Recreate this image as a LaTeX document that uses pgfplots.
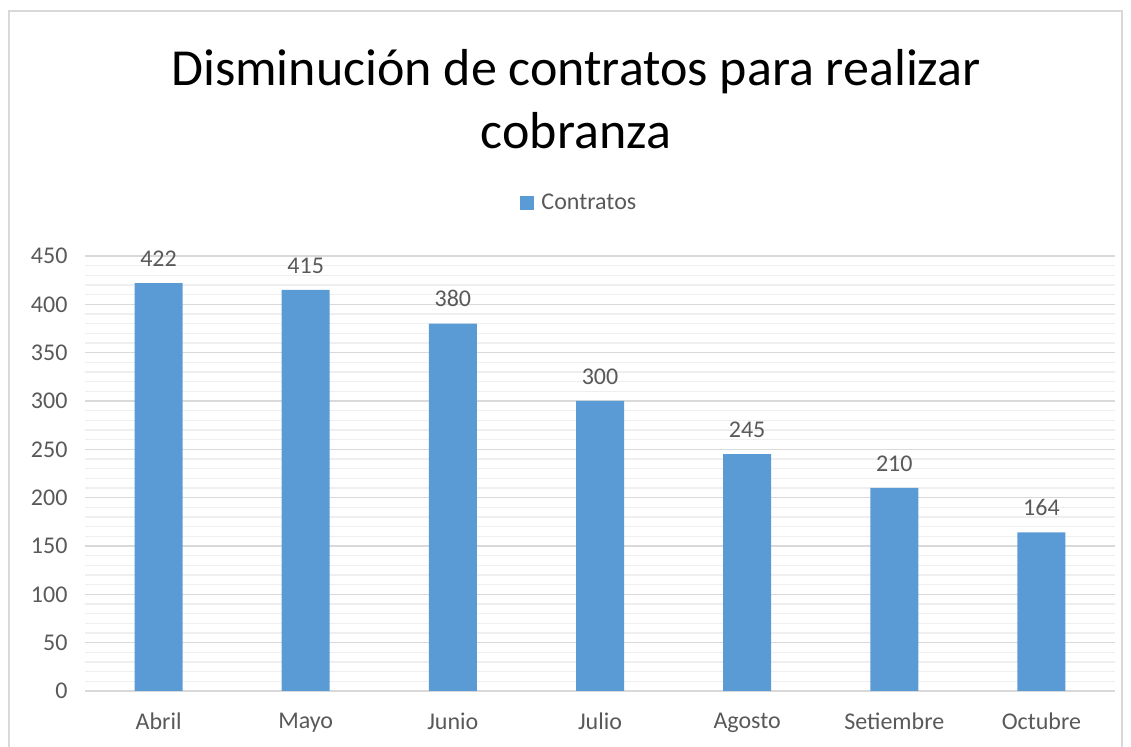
\documentclass[border=0pt]{standalone}
\usepackage{pgfplots}
\pgfplotsset{compat=1.18}
\usepackage{fontspec}
\setmainfont{Carlito}
\definecolor{barblue}{HTML}{5B9BD5}
\definecolor{textgray}{HTML}{595959}
\definecolor{majgrid}{HTML}{D9D9D9}
\definecolor{mingrid}{HTML}{EFEFEF}
\definecolor{framec}{HTML}{D9D9D9}
\begin{document}
\begin{tikzpicture}[x=1pt,y=1pt]
\useasboundingbox (0,0) rectangle (1131,746);
\draw[framec, line width=1.5pt] (9,-5) -- (9,735) -- (1122,735) -- (1122,-5);
\node[align=center, font=\fontsize{52}{63}\selectfont, text=black] at (576,647) {Disminución de contratos para realizar\\cobranza};
\begin{axis}[
  at={(85pt,55pt)}, anchor=south west,
  scale only axis, width=1030pt, height=435pt,
  ybar, bar width=48pt,
  xmin=-0.5, xmax=6.5, ymin=0, ymax=450,
  xtick=data,
  xticklabels={Abril,Mayo,Junio,Julio,Agosto,Setiembre,Octubre},
  ytick={0,50,...,450},
  minor y tick num=4,
  ymajorgrids, yminorgrids,
  major grid style={majgrid, line width=1.2pt},
  minor grid style={mingrid, line width=1.2pt},
  axis line style={draw=none},
  tick style={draw=none},
  minor tick style={draw=none},
  /pgf/number format/assume math mode=true,
  ticklabel style={font=\fontsize{24}{28}\selectfont, text=textgray},
  yticklabel style={xshift=-14pt},
  xticklabel style={yshift=-14pt},
  nodes near coords,
  every node near coord/.append style={font=\fontsize{24}{28}\selectfont, text=textgray, yshift=13pt},
  legend style={at={(0.48,1.122)}, anchor=center, draw=none, fill=none,
    font=\fontsize{24}{28}\selectfont, text=textgray, legend columns=1},
  legend image code/.code={\fill[barblue] (0pt,-7pt) rectangle (14pt,7pt); \path (19pt,0pt);},
]
\addplot[fill=barblue, draw=none] coordinates {(0,422) (1,415) (2,380) (3,300) (4,245) (5,210) (6,164)};
\addlegendentry{Contratos}
\end{axis}
\end{tikzpicture}
\end{document}
